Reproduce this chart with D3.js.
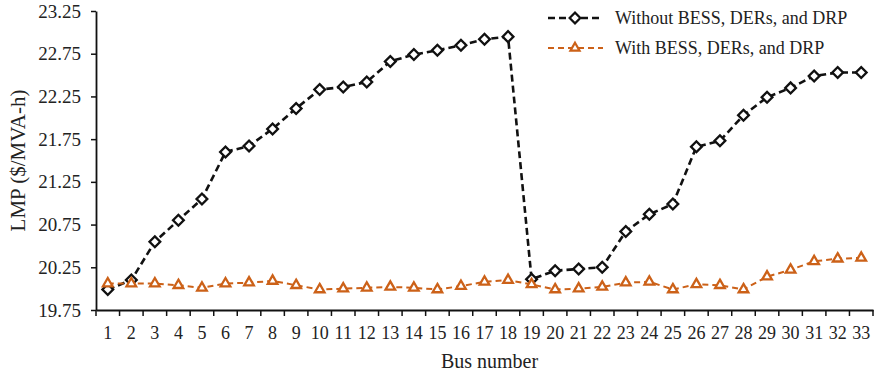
<!DOCTYPE html>
<html>
<head>
<meta charset="utf-8">
<script src="https://cdn.jsdelivr.net/npm/d3@7"></script>
<style>
  body { margin: 0; background: #fff; }
  text { font-family: "Liberation Serif", "Times New Roman", serif; fill: #222; }
</style>
</head>
<body>
<div id="chart"></div>
<script>
const buses = d3.range(1, 34);
const withoutLMP = [19.99, 20.10, 20.55, 20.80, 21.05, 21.60, 21.67, 21.87, 22.11, 22.33,
  22.36, 22.42, 22.66, 22.74, 22.79, 22.85, 22.92, 22.95, 20.11, 20.21,
  20.23, 20.25, 20.67, 20.87, 20.99, 21.66, 21.73, 22.03, 22.24, 22.35,
  22.49, 22.53, 22.53];
const withLMP = [20.06, 20.06, 20.06, 20.04, 20.01, 20.06, 20.07, 20.09, 20.04, 19.99,
  20.00, 20.01, 20.02, 20.01, 19.99, 20.03, 20.08, 20.10, 20.05, 19.99,
  20.00, 20.02, 20.07, 20.08, 19.99, 20.05, 20.04, 19.99, 20.14, 20.22,
  20.32, 20.35, 20.36];
const yTicks = [19.75, 20.25, 20.75, 21.25, 21.75, 22.25, 22.75, 23.25];
const seriesNames = ["Without BESS, DERs, and DRP", "With BESS, DERs, and DRP"];

const width = 874, height = 373;
const margin = { top: 11, right: 1, bottom: 63, left: 96 };

const svg = d3.select("#chart")
  .append("svg")
  .attr("width", width)
  .attr("height", height)

const x = d3.scaleBand()
  .domain(buses)
  .range([margin.left, width - margin.right])
  .padding(0)

const y = d3.scaleLinear()
  .domain([19.75, 23.25])
  .range([height - margin.bottom, margin.top])

// y axis
const yAxis = svg.append("g")
  .attr("transform", `translate(${margin.left},0)`)
  .call(d3.axisLeft(y).tickValues(yTicks).tickFormat(d3.format(".2f")).tickSize(5).tickSizeOuter(0))
yAxis.select(".domain").attr("stroke", "#111").attr("stroke-width", 1.8)
yAxis.selectAll(".tick line").attr("stroke", "#111").attr("stroke-width", 1.5)
yAxis.selectAll(".tick text")
  .attr("x", -15)
  .style("font-size", "19px")
  .style("font-family", "Liberation Serif, serif")
  .attr("fill", "#222")

// x axis: labels in band centers, tick marks at band edges
const xAxis = svg.append("g")
  .attr("transform", `translate(0,${y(19.75)})`)
  .call(d3.axisBottom(x).tickSize(0).tickSizeOuter(0))
xAxis.select(".domain").attr("stroke", "#111").attr("stroke-width", 2)
xAxis.selectAll(".tick text")
  .attr("y", 16)
  .style("font-size", "18px")
  .style("font-family", "Liberation Serif, serif")
  .attr("fill", "#222")

const edges = buses.map(d => x(d)).concat([x(buses[buses.length - 1]) + x.bandwidth()])
svg.append("g")
  .selectAll("line")
  .data(edges)
  .enter()
  .append("line")
  .attr("x1", d => d)
  .attr("x2", d => d)
  .attr("y1", y(19.75))
  .attr("y2", y(19.75) + 6)
  .attr("stroke", "#111")
  .attr("stroke-width", 1.5)

// axis titles
svg.append("text")
  .attr("x", (margin.left + width - margin.right) / 2 + 5)
  .attr("y", 368)
  .attr("text-anchor", "middle")
  .style("font-size", "20px")
  .text("Bus number")

svg.append("text")
  .attr("transform", `translate(25,${(margin.top + height - margin.bottom) / 2}) rotate(-90)`)
  .attr("text-anchor", "middle")
  .style("font-size", "21px")
  .text("LMP ($/MVA-h)")

const cx = d => x(d) + x.bandwidth() / 2
const black = "#111", orange = "#cc6118"

const line = d3.line()
  .x((d, i) => cx(buses[i]))
  .y(d => y(d))

const diamond = d3.symbol().type(d3.symbolSquare).size(58)
const triangle = d3.symbol().type(d3.symbolTriangle).size(40)

// series 1: without
svg.append("path")
  .datum(withoutLMP)
  .attr("d", line)
  .attr("fill", "none")
  .attr("stroke", black)
  .attr("stroke-width", 2.6)
  .attr("stroke-dasharray", "7,4")

svg.append("g")
  .selectAll("path")
  .data(withoutLMP)
  .enter()
  .append("path")
  .attr("d", diamond)
  .attr("transform", (d, i) => `translate(${cx(buses[i])},${y(d)}) rotate(45)`)
  .attr("fill", "#fff")
  .attr("stroke", black)
  .attr("stroke-width", 2.3)

// series 2: with
svg.append("path")
  .datum(withLMP)
  .attr("d", line)
  .attr("fill", "none")
  .attr("stroke", orange)
  .attr("stroke-width", 2)
  .attr("stroke-dasharray", "6,4")

svg.append("g")
  .selectAll("path")
  .data(withLMP)
  .enter()
  .append("path")
  .attr("d", triangle)
  .attr("transform", (d, i) => `translate(${cx(buses[i])},${y(d)})`)
  .attr("fill", "#fff")
  .attr("stroke", orange)
  .attr("stroke-width", 2.3)

// legend
const legend = svg.append("g")
const legendRows = [
  { name: seriesNames[0], color: black, sym: diamond, rot: 45, w: 2.6, dash: "7,4", y: 18 },
  { name: seriesNames[1], color: orange, sym: d3.symbol().type(d3.symbolTriangle).size(36), rot: 0, w: 2, dash: "6,4", y: 48 }
]
legendRows.forEach(r => {
  legend.append("line")
    .attr("x1", 548).attr("x2", 603)
    .attr("y1", r.y).attr("y2", r.y)
    .attr("stroke", r.color)
    .attr("stroke-width", r.w)
    .attr("stroke-dasharray", r.dash)
  legend.append("path")
    .attr("d", r.sym)
    .attr("transform", `translate(575,${r.y}) rotate(${r.rot})`)
    .attr("fill", "#fff")
    .attr("stroke", r.color)
    .attr("stroke-width", 2.2)
  legend.append("text")
    .attr("x", 615)
    .attr("y", r.y + 6)
    .style("font-size", "18px")
    .text(r.name)
})
</script>
</body>
</html>
